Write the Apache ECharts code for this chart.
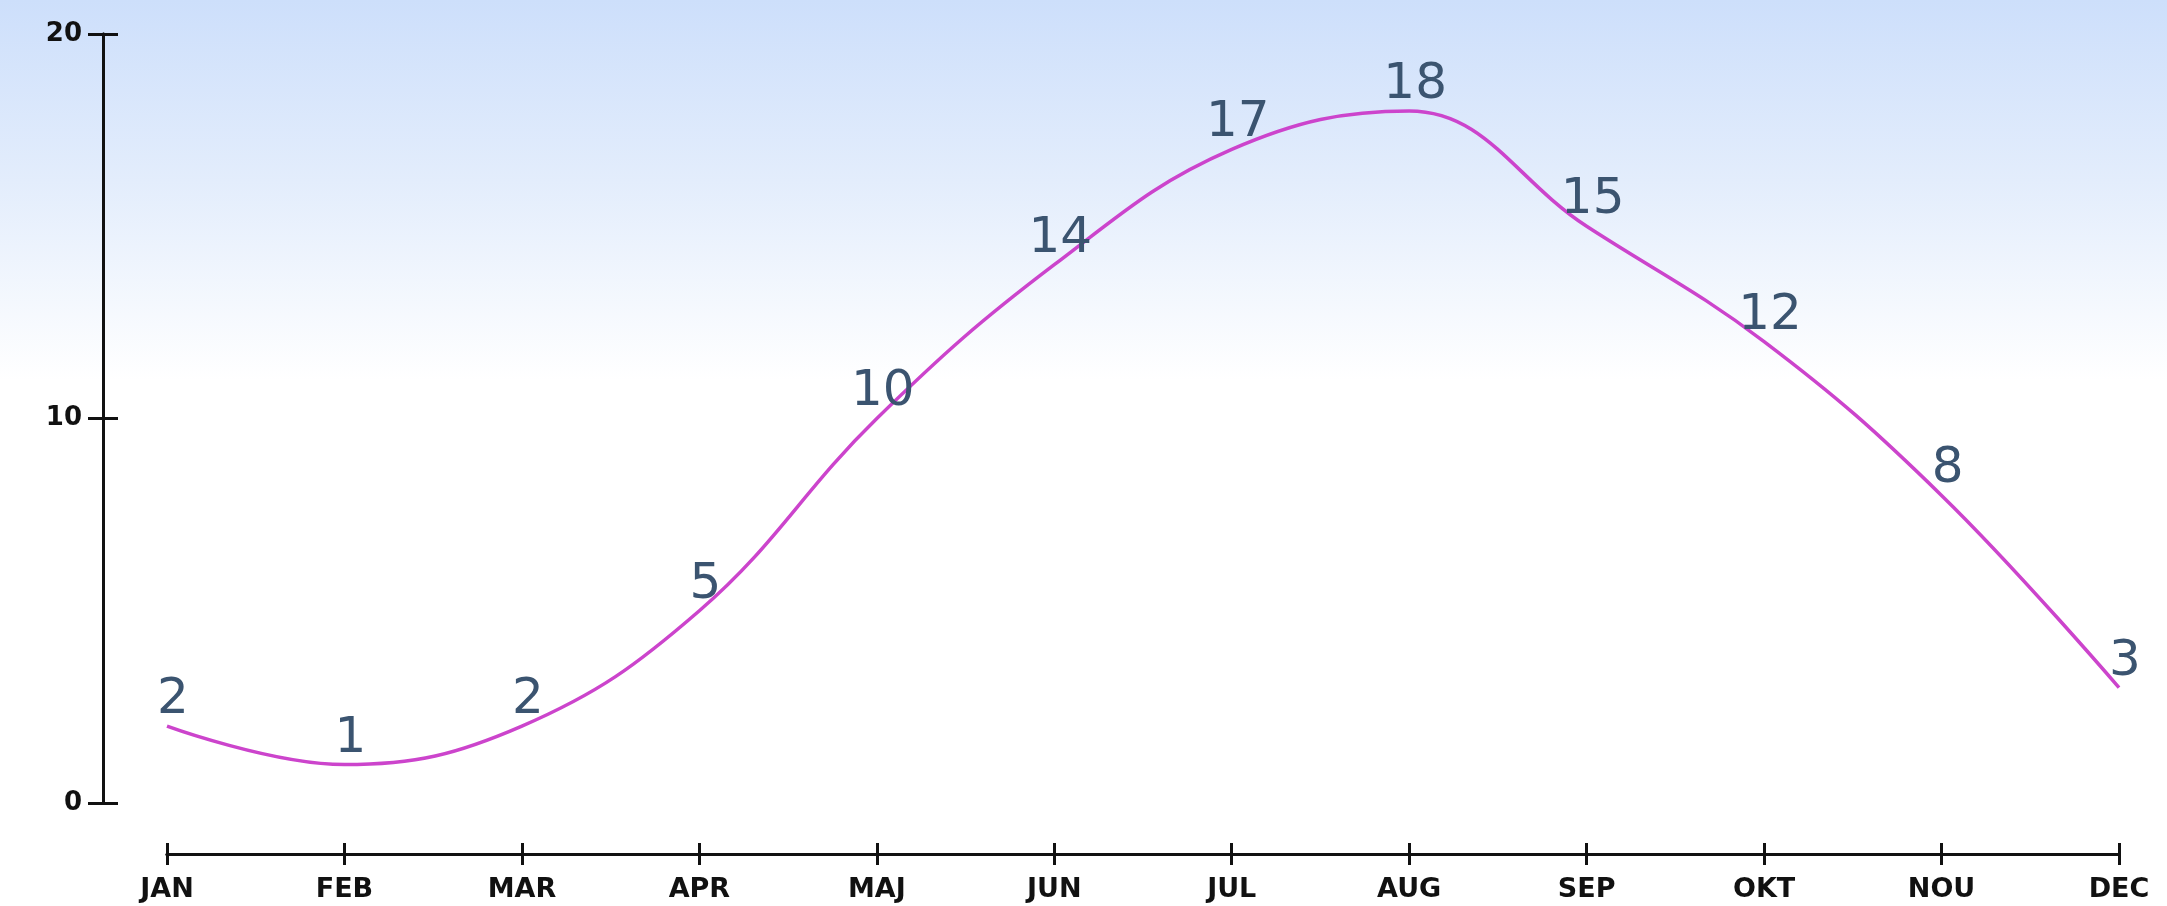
<!DOCTYPE html>
<html>
<head>
<meta charset="utf-8">
<script src="https://cdn.jsdelivr.net/npm/echarts@6/dist/echarts.min.js"></script>
<style>
html,body{margin:0;padding:0;width:2167px;height:906px;overflow:hidden;background:#fff;}
#chart{width:2167px;height:906px;}
</style>
</head>
<body>
<div id="chart"></div>
<script>
const months = ['JAN','FEB','MAR','APR','MAJ','JUN','JUL','AUG','SEP','OKT','NOU','DEC'];
const values = [2,1,2,5,10,14,17,18,15,12,8,3];
const yTicks = [0,10,20];

const chart = echarts.init(document.getElementById('chart'), null, {renderer:'canvas'});

const axisFont = {fontFamily:'DejaVu Sans', fontWeight:'bold', color:'#111'};
const lineStyle = {color:'#111', width:3};

function xAx(inside, show){
  return {
    type:'category', data:months, boundaryGap:false, position:'bottom', offset:51,
    axisLine:{show:true, onZero:false, lineStyle:lineStyle},
    axisTick:{show:true, inside:inside, length:11, alignWithLabel:true, lineStyle:lineStyle},
    axisLabel:Object.assign({show:show, margin:22, fontSize:27}, axisFont),
    splitLine:{show:false}
  };
}
function yAx(inside, show){
  return {
    type:'value', min:yTicks[0], max:yTicks[yTicks.length-1], interval:10, position:'left', offset:64,
    axisLine:{show:true, onZero:false, lineStyle:lineStyle},
    axisTick:{show:true, inside:inside, length:15, lineStyle:lineStyle},
    axisLabel:Object.assign({show:show, margin:21, fontSize:26}, axisFont),
    splitLine:{show:false}
  };
}

chart.setOption({
  animation:false,
  backgroundColor:{
    type:'linear', x:0, y:0, x2:0, y2:1,
    colorStops:[
      {offset:0, color:'#cddffb'},
      {offset:0.2, color:'#e3edfc'},
      {offset:0.42, color:'#ffffff'},
      {offset:1, color:'#ffffff'}
    ]
  },
  grid:{left:167, right:48, top:34, bottom:103, containLabel:false},
  xAxis:[xAx(false,true), xAx(true,false)],
  yAxis:[yAx(false,true), yAx(true,false)],
  series:[{
    type:'line', data:values, xAxisIndex:0, yAxisIndex:0,
    smooth:0.4,
    showSymbol:true, symbol:'circle', symbolSize:2,
    itemStyle:{color:'rgba(0,0,0,0)', borderWidth:0},
    lineStyle:{color:'#cc44cc', width:3.5},
    label:{show:true, position:'top', distance:0, offset:[6,0],
      fontFamily:'DejaVu Sans', fontSize:50, color:'#3b5470'}
  }]
});
</script>
</body>
</html>
